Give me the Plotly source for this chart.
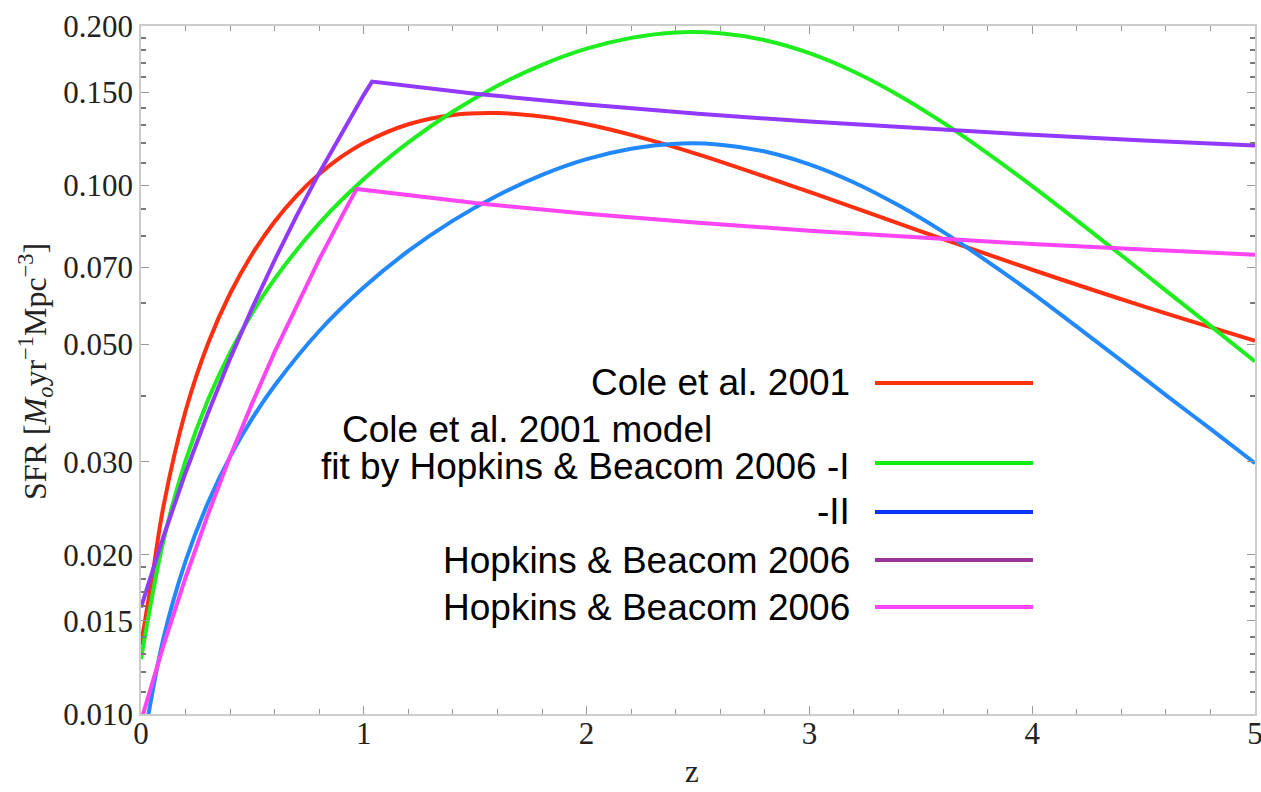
import plotly.graph_objects as go

# ---- data: star formation rate density vs redshift ----
# Cole et al. 2001
z_cole = [0.0, 0.05, 0.1, 0.2, 0.3, 0.4, 0.5, 0.6, 0.7, 0.8, 0.9, 1.0,
          1.2, 1.4, 1.6, 1.8, 2.0, 2.2, 2.5, 3.0, 3.5, 4.0, 4.5, 5.0]
sfr_cole = [0.0135, 0.0181, 0.0246, 0.0374, 0.0501, 0.0624, 0.0742, 0.0854,
            0.0957, 0.1050, 0.1132, 0.1202, 0.1304, 0.1358, 0.1369, 0.1348,
            0.1304, 0.1245, 0.1144, 0.0971, 0.0818, 0.0692, 0.0590, 0.0508]

# Cole et al. 2001 model fit by Hopkins & Beacom 2006 -I / -II
z_fit = [0.0, 0.1, 0.2, 0.3, 0.4, 0.5, 0.6, 0.8, 1.0, 1.2, 1.4, 1.6, 1.8,
         2.0, 2.2, 2.4, 2.6, 2.8, 3.0, 3.2, 3.4, 3.6, 3.8, 4.0, 4.2, 4.4,
         4.6, 4.8, 5.0]
sfr_fit_1 = [0.0127, 0.0212, 0.0301, 0.0392, 0.0483, 0.0574, 0.0665, 0.0847,
             0.1027, 0.1205, 0.1378, 0.1542, 0.1689, 0.1812, 0.1899, 0.1944,
             0.1937, 0.1880, 0.1777, 0.1639, 0.1480, 0.1313, 0.1149, 0.0996,
             0.0858, 0.0737, 0.0632, 0.0542, 0.0464]
sfr_fit_2 = [0.00826, 0.01386, 0.01946, 0.02506, 0.03066, 0.03626, 0.0418,
             0.0530, 0.0641, 0.0751, 0.0857, 0.0956, 0.1046, 0.1120, 0.1172,
             0.1198, 0.1193, 0.1158, 0.1095, 0.1012, 0.0916, 0.0816, 0.0717,
             0.0625, 0.0540, 0.0466, 0.0401, 0.0346, 0.0298]

# Hopkins & Beacom 2006 broken power laws
z_hb_a = [0.0, 0.1, 0.2, 0.3, 0.4, 0.5, 0.6, 0.7, 0.8, 0.9, 1.0, 1.037,
          1.5, 2.0, 2.5, 3.0, 3.5, 4.0, 4.5, 5.0]
sfr_hb_a = [0.0159, 0.0216, 0.0286, 0.0370, 0.0470, 0.0587, 0.0722, 0.0878,
            0.1055, 0.1256, 0.1482, 0.1570, 0.1489, 0.1421, 0.1365, 0.1319,
            0.1280, 0.1245, 0.1215, 0.1188]
z_hb_b = [0.0, 0.1, 0.2, 0.3, 0.4, 0.5, 0.6, 0.7, 0.8, 0.9, 0.968,
          1.5, 2.0, 2.5, 3.0, 3.5, 4.0, 4.5, 5.0]
sfr_hb_b = [0.0097, 0.01344, 0.0181, 0.0238, 0.0307, 0.0388, 0.0484, 0.0595,
            0.0724, 0.0871, 0.0984, 0.0925, 0.0883, 0.0849, 0.0820, 0.0796,
            0.0774, 0.0756, 0.0739]

y_tickvals = [0.010, 0.015, 0.020, 0.030, 0.050, 0.070, 0.100, 0.150, 0.200]
y_ticktext = ["0.010", "0.015", "0.020", "0.030", "0.050", "0.070",
              "0.100", "0.150", "0.200"]
y_minor = [0.011, 0.012, 0.013, 0.014, 0.016, 0.017, 0.018, 0.019,
           0.04, 0.06, 0.08, 0.09, 0.11, 0.12, 0.13, 0.14,
           0.16, 0.17, 0.18, 0.19]

legend_labels = ["Cole et al. 2001",
                 "fit by Hopkins & Beacom 2006 -I",
                 "-II",
                 "Hopkins & Beacom 2006",
                 "Hopkins & Beacom 2006"]
legend_colors = ["#ff3300", "#11ee11", "#0a33ff", "#993399", "#ff44ff"]

# ---- figure ----
fig = go.Figure()
curves = [
    (z_cole, sfr_cole, "#ff2f10", "spline"),
    (z_fit, sfr_fit_1, "#1eee1e", "spline"),
    (z_fit, sfr_fit_2, "#2288ff", "spline"),
    (z_hb_a, sfr_hb_a, "#9238ff", "linear"),
    (z_hb_b, sfr_hb_b, "#ff44f4", "linear"),
]
for zs, ys, col, shape in curves:
    fig.add_trace(go.Scatter(x=zs, y=ys, mode="lines",
                             line=dict(color=col, width=4, shape=shape),
                             showlegend=False, hoverinfo="skip"))

W, H = 1261, 792
ml, mr, mt, mb = 141, 6, 26, 78
pw, ph = W - ml - mr, H - mt - mb


def px(xp):
    return (xp - ml) / pw


def py(yp):
    return (H - mb - yp) / ph


serif = "Liberation Serif, Times New Roman, serif"
sans = "Liberation Sans, Arial, Helvetica, sans-serif"
legend_font = dict(family=sans, size=37, color="black")

annotations = []
shapes = []
legend_rows = [383, 466, 512, 560, 607]
line_rows = [383, 463, 512, 560, 607]
for lab, col, ty, ly in zip(legend_labels, legend_colors, legend_rows, line_rows):
    annotations.append(dict(text=lab, x=px(852), y=py(ty), xref="paper",
                            yref="paper", xanchor="right", yanchor="middle",
                            showarrow=False, font=legend_font))
    shapes.append(dict(type="line", xref="paper", yref="paper",
                       x0=px(875), x1=px(1033), y0=py(ly), y1=py(ly),
                       line=dict(color=col, width=4)))
annotations.append(dict(text="Cole et al. 2001 model", x=px(714), y=py(430),
                        xref="paper", yref="paper", xanchor="right",
                        yanchor="middle", showarrow=False, font=legend_font))
annotations.append(dict(
    text="SFR [<i>M</i><sub><i>o</i></sub>yr<sup>\u22121</sup>Mpc<sup>\u22123</sup>]",
    x=px(35), y=py(372), xref="paper", yref="paper", textangle=-90,
    xanchor="center", yanchor="middle", showarrow=False,
    font=dict(family=serif, size=32, color="#222")))
annotations.append(dict(text="z", x=px(692), y=py(771), xref="paper",
                        yref="paper", xanchor="center", yanchor="middle",
                        showarrow=False,
                        font=dict(family=serif, size=31, color="#222")))

axis_common = dict(showline=True, linecolor="#cccccc", linewidth=1.5,
                   mirror="allticks", ticks="inside", tickcolor="#999999",
                   ticklen=8, tickwidth=1, showgrid=False, zeroline=False,
                   automargin=False, ticklabeloverflow="allow",
                   tickfont=dict(family=serif, size=31, color="#222"))

fig.update_layout(
    width=W, height=H,
    margin=dict(l=ml, r=mr, t=mt, b=mb, pad=0),
    paper_bgcolor="white", plot_bgcolor="white",
    xaxis=dict(range=[0, 5], tickvals=[0, 1, 2, 3, 4, 5],
               ticktext=["0", "1", "2", "3", "4", "5"],
               ticklabelstandoff=-9,
               minor=dict(dtick=0.2, tick0=0, ticks="inside", ticklen=5,
                          tickcolor="#999999", tickwidth=1),
               **axis_common),
    yaxis=dict(type="log", range=[-2, -0.69897], tickvals=y_tickvals,
               ticktext=y_ticktext,
               minor=dict(tickvals=y_minor, ticks="inside", ticklen=5,
                          tickcolor="#777777", tickwidth=1.5),
               **axis_common),
    annotations=annotations, shapes=shapes,
)

fig.write_html("out.html")
